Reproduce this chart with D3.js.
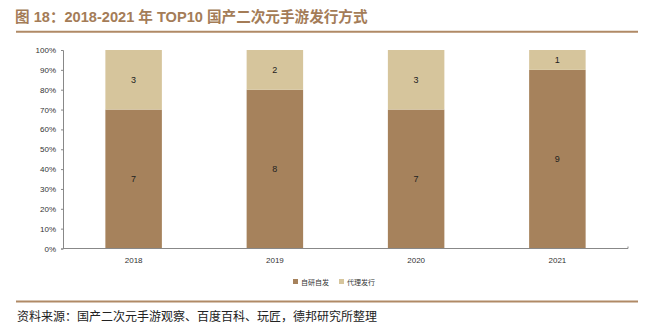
<!DOCTYPE html>
<html><head><meta charset="utf-8">
<script src="https://cdn.jsdelivr.net/npm/d3@7"></script>
<style>
body{margin:0;background:#fff;}
svg{display:block;}
</style></head>
<body><svg id="chart" width="652" height="331"></svg>
<script>
const years = ["2018", "2019", "2020", "2021"];
const selfPublished = [7, 8, 7, 9];   // 自研自发
const agencyPublished = [3, 2, 3, 1]; // 代理发行
const seriesNames = ["自研自发", "代理发行"];
const yTicks = [0, 0.1, 0.2, 0.3, 0.4, 0.5, 0.6, 0.7, 0.8, 0.9, 1];

const colors = ["#a6825c", "#d6c59c"];
const svg = d3.select("#chart");

// title and rules
svg.append("text").attr("x", 15).attr("y", 22)
  .attr("font-family", "Liberation Sans, Noto Sans CJK SC, sans-serif")
  .attr("font-size", 14.6).attr("font-weight", "bold").attr("fill", "#a47c57")
  .text("图 18：2018-2021 年 TOP10 国产二次元手游发行方式");
svg.append("line").attr("x1", 16).attr("x2", 638).attr("y1", 31.8).attr("y2", 31.8)
  .attr("stroke", "#b08a66").attr("stroke-width", 2);
svg.append("line").attr("x1", 16).attr("x2", 638).attr("y1", 301.5).attr("y2", 301.5)
  .attr("stroke", "#b08a66").attr("stroke-width", 2);
svg.append("text").attr("x", 17).attr("y", 321)
  .attr("font-family", "Noto Sans CJK SC, sans-serif")
  .attr("font-size", 12).attr("fill", "#222")
  .text("资料来源：国产二次元手游观察、百度百科、玩匠，德邦研究所整理");

const x = d3.scaleBand().domain(years).range([63, 628]).paddingInner(0.6).paddingOuter(0.3);
const y = d3.scaleLinear().domain([0, 1]).range([248.5, 50]);

const rows = years.map((yr, i) => ({year: yr, a: selfPublished[i], b: agencyPublished[i]}));
const stack = d3.stack().keys(["a", "b"]).value((d, k) => d[k] / (d.a + d.b));
const layers = stack(rows);

const g = svg.append("g");
layers.forEach((layer, li) => {
  g.selectAll(null).data(layer).enter().append("rect")
    .attr("x", d => x(d.data.year))
    .attr("width", x.bandwidth())
    .attr("y", d => y(d[1]))
    .attr("height", d => y(d[0]) - y(d[1]))
    .attr("fill", colors[li]);
  g.selectAll(null).data(layer).enter().append("text")
    .attr("x", d => x(d.data.year) + x.bandwidth() / 2)
    .attr("y", d => (y(d[0]) + y(d[1])) / 2 + 3)
    .attr("text-anchor", "middle")
    .attr("font-family", "Liberation Sans, Arial, sans-serif")
    .attr("font-size", 9).attr("fill", "#222")
    .text(d => li === 0 ? d.data.a : d.data.b);
});

// axes
const yAxis = d3.axisLeft(y).tickValues(yTicks).tickFormat(d3.format(".0%")).tickSize(2).tickPadding(5);
const ya = svg.append("g").attr("transform", "translate(63,0)").call(yAxis);
const xAxis = d3.axisBottom(x).tickSize(0).tickPadding(9);
const xa = svg.append("g").attr("transform", "translate(0,248.5)").call(xAxis);
[ya, xa].forEach(a => {
  a.selectAll("path").attr("stroke", "#888");
  a.selectAll("line").attr("stroke", "#888");
  a.selectAll("text").attr("font-family", "Liberation Sans, Arial, sans-serif")
    .attr("font-size", 8).attr("fill", "#333");
});
xa.select(".domain").attr("d", "M63,0H628V-2");

// legend
const lg = svg.append("g").attr("transform", "translate(293,282)");
seriesNames.forEach((name, i) => {
  const item = lg.append("g").attr("transform", `translate(${i * 46},0)`);
  item.append("rect").attr("x", 0).attr("y", -3).attr("width", 5).attr("height", 5).attr("fill", colors[i]);
  item.append("text").attr("x", 8).attr("y", 2.5)
    .attr("font-family", "Noto Sans CJK SC, sans-serif")
    .attr("font-size", 7).attr("fill", "#333").text(name);
});
</script></body></html>
